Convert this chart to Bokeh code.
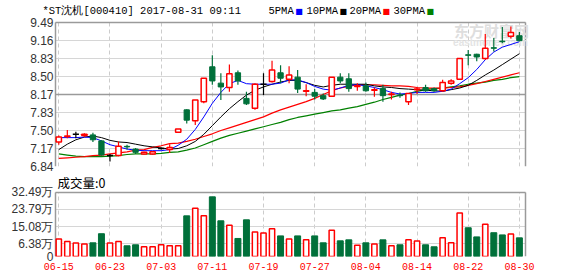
from bokeh.plotting import figure
from bokeh.layouts import column
from bokeh.models import FixedTicker, Label, ColumnDataSource, Range1d, PrintfTickFormatter, Grid
from bokeh.embed import file_html
from bokeh.resources import INLINE

# ---------------- data ----------------
dates = ["06-15", "06-16", "06-19", "06-20", "06-21", "06-22", "06-23", "06-26", "06-27", "06-28",
         "06-29", "06-30", "07-03", "07-04", "07-05", "07-06", "07-07", "07-10", "07-11", "07-12",
         "07-13", "07-14", "07-17", "07-18", "07-19", "07-20", "07-21", "07-24", "07-25", "07-26",
         "07-27", "07-28", "07-31", "08-01", "08-02", "08-03", "08-04", "08-07", "08-08", "08-09",
         "08-10", "08-11", "08-14", "08-15", "08-16", "08-17", "08-18", "08-21", "08-22", "08-23",
         "08-24", "08-25", "08-28", "08-29", "08-30"]

open_ = [7.29, 7.39, 7.43, 7.41, 7.42, 7.31, 7.04, 7.04, 7.21, 7.16,
         7.07, 7.07, 7.17, 7.15, 7.47, 7.88, 7.68, 8.03, 8.67, 8.37,
         8.29, 8.56, 8.09, 7.91, 8.35, 8.40, 8.56, 8.44, 8.48, 8.22,
         8.20, 8.14, 8.13, 8.48, 8.45, 8.31, 8.32, 8.24, 8.27, 8.16,
         8.15, 8.03, 8.25, 8.29, 8.27, 8.23, 8.37, 8.44, 8.89, 8.90,
         8.82, 9.02, 9.14, 9.23, 9.24]
high = [7.41, 7.51, 7.48, 7.45, 7.46, 7.32, 7.07, 7.30, 7.24, 7.18,
        7.11, 7.12, 7.19, 7.25, 7.53, 7.89, 8.06, 8.46, 8.88, 8.55,
        8.71, 8.60, 8.21, 8.37, 8.55, 8.78, 8.70, 8.68, 8.61, 8.35,
        8.26, 8.18, 8.48, 8.55, 8.55, 8.37, 8.38, 8.29, 8.34, 8.21,
        8.20, 8.18, 8.30, 8.34, 8.29, 8.43, 8.44, 8.82, 8.98, 8.91,
        9.27, 9.20, 9.40, 9.41, 9.31]
low = [7.24, 7.36, 7.36, 7.38, 7.29, 7.04, 6.93, 7.03, 7.15, 7.07,
       7.06, 7.06, 7.15, 7.09, 7.47, 7.63, 7.60, 8.00, 8.34, 8.06,
       8.21, 8.34, 7.97, 7.88, 8.15, 8.38, 8.37, 8.37, 8.19, 8.13,
       8.07, 8.06, 8.13, 8.37, 8.21, 8.23, 8.21, 8.12, 8.03, 8.07,
       8.10, 7.97, 8.17, 8.21, 8.21, 8.21, 8.34, 8.43, 8.70, 8.77,
       8.80, 8.95, 9.10, 9.19, 9.14]
close = [7.38, 7.40, 7.43, 7.43, 7.33, 7.05, 7.04, 7.21, 7.20, 7.10,
         7.10, 7.11, 7.17, 7.19, 7.53, 7.69, 8.06, 8.46, 8.41, 8.30,
         8.54, 8.41, 7.99, 8.35, 8.35, 8.61, 8.46, 8.52, 8.26, 8.23,
         8.13, 8.08, 8.48, 8.41, 8.27, 8.32, 8.23, 8.25, 8.14, 8.17,
         8.14, 8.18, 8.26, 8.23, 8.23, 8.38, 8.41, 8.82, 8.88, 8.85,
         9.01, 9.01, 9.13, 9.30, 9.15]

ma5 = [7.37, 7.37, 7.37, 7.38, 7.37, 7.31, 7.24, 7.20, 7.16, 7.14,
       7.13, 7.13, 7.13, 7.15, 7.23, 7.34, 7.52, 7.75, 8.00, 8.20,
       8.36, 8.42, 8.36, 8.35, 8.35, 8.35, 8.37, 8.43, 8.43, 8.38,
       8.31, 8.26, 8.24, 8.28, 8.33, 8.34, 8.32, 8.29, 8.25, 8.20,
       8.17, 8.18, 8.20, 8.20, 8.20, 8.22, 8.26, 8.36, 8.47, 8.62,
       8.80, 8.94, 9.03, 9.08, 9.13]
ma10 = [7.15, 7.25, 7.33, 7.38, 7.40, 7.37, 7.32, 7.29, 7.28, 7.25,
        7.22, 7.20, 7.18, 7.16, 7.17, 7.22, 7.30, 7.43, 7.59, 7.75,
        7.90, 8.03, 8.15, 8.24, 8.30, 8.35, 8.39, 8.42, 8.42, 8.38,
        8.33, 8.30, 8.33, 8.35, 8.35, 8.35, 8.35, 8.32, 8.30, 8.29,
        8.27, 8.26, 8.25, 8.24, 8.23, 8.22, 8.25, 8.28, 8.33, 8.42,
        8.52, 8.61, 8.71, 8.81, 8.91]
ma20 = [6.99, 7.00, 7.01, 7.02, 7.04, 7.05, 7.07, 7.09, 7.11, 7.14,
        7.15, 7.19, 7.22, 7.26, 7.27, 7.30, 7.34, 7.39, 7.44, 7.50,
        7.55, 7.60, 7.65, 7.70, 7.75, 7.82, 7.88, 7.93, 7.98, 8.03,
        8.09, 8.16, 8.23, 8.28, 8.31, 8.34, 8.34, 8.34, 8.33, 8.32,
        8.32, 8.31, 8.29, 8.28, 8.28, 8.28, 8.29, 8.30, 8.33, 8.36,
        8.40, 8.44, 8.48, 8.52, 8.56]
ma30 = [7.07, 7.05, 7.03, 7.02, 7.02, 7.02, 7.03, 7.04, 7.06, 7.07,
        7.07, 7.07, 7.08, 7.10, 7.11, 7.14, 7.18, 7.24, 7.30, 7.36,
        7.41, 7.45, 7.49, 7.53, 7.57, 7.61, 7.65, 7.70, 7.74, 7.77,
        7.80, 7.83, 7.86, 7.88, 7.91, 7.94, 7.98, 8.02, 8.07, 8.11,
        8.15, 8.18, 8.22, 8.25, 8.27, 8.28, 8.30, 8.32, 8.35, 8.37,
        8.39, 8.42, 8.44, 8.47, 8.49]

volume = [8.8, 7.6, 6.8, 6.3, 6.9, 11.5, 6.8, 7.6, 5.4, 5.9,
          4.9, 4.9, 5.9, 5.4, 5.4, 20.5, 24.4, 20.5, 30.1, 18.0,
          15.8, 9.1, 18.5, 12.3, 11.8, 14.0, 10.4, 8.8, 10.4, 8.4,
          10.4, 6.9, 13.3, 7.9, 8.4, 5.7, 6.9, 6.3, 8.4, 5.4,
          5.9, 8.4, 7.8, 5.9, 4.9, 9.4, 6.9, 21.9, 14.5, 9.9,
          16.3, 12.0, 10.9, 11.3, 9.4]

price_ticks = [6.84, 7.17, 7.50, 7.83, 8.17, 8.50, 8.83, 9.16, 9.49]
price_mid = [8.17]
vol_ticks = [0, 6.38, 15.08, 23.79, 32.49]
vol_tick_labels = ["0", "6.38万", "15.08万", "23.79万", "32.49万"]
x_tick_idx = [0, 6, 12, 18, 24, 30, 36, 42, 48, 54]

title_text = "*ST沈机[000410] 2017-08-31 09:11"
legend_names = ["5PMA", "10PMA", "20PMA", "30PMA"]
vol_text = "成交量:0"

# ---------------- styles / layout constants ----------------
RED = "#ff0000"
GREEN = "#00703a"
BLACK = "#000000"
BLUE = "#0000ff"
MA_GREEN = "#008000"
GRID = "#d6d6d6"
BORDER = "#9a9a9a"
AXIS_FONT = "Liberation Sans"
MONO = "Liberation Mono"

X_LEFT, X_RIGHT = -0.387, 54.71          # plot-box edges in day units
P_LO, P_HI = price_ticks[0], price_ticks[-1]
V_LO, V_HI = vol_ticks[0], vol_ticks[-1]

n = len(dates)
idx = list(range(n))
kind = ["up" if c > o else ("down" if c < o else "flat") for o, c in zip(open_, close)]


def sel(k):
    ii = [i for i in idx if kind[i] == k]
    return ColumnDataSource(dict(
        x=ii,
        top=[max(open_[i], close[i]) for i in ii],
        bottom=[min(open_[i], close[i]) for i in ii],
        high=[high[i] for i in ii],
        low=[low[i] for i in ii],
    ))


xr = Range1d(-1.911, 60.93)


def style_common(p, lo, hi):
    p.xgrid.ticker = FixedTicker(ticks=x_tick_idx)
    p.xgrid.grid_line_color = "#cccccc"
    p.xgrid.grid_line_dash = "4 3"
    p.xgrid.cross_bounds = (lo, hi)
    p.ygrid.grid_line_color = GRID
    p.ygrid.cross_bounds = (X_LEFT, X_RIGHT)
    p.outline_line_color = None
    p.yaxis.major_label_text_font = AXIS_FONT
    p.yaxis.major_label_text_font_size = "12px"
    p.yaxis.major_label_text_color = "#333333"
    p.yaxis.major_tick_out = 0
    p.yaxis.major_tick_in = 0
    p.yaxis.minor_tick_out = 0
    p.yaxis.minor_tick_in = 0
    p.yaxis.major_label_standoff = -11
    p.yaxis.axis_line_color = None
    p.yaxis.major_tick_line_color = None
    p.yaxis.minor_tick_line_color = None
    p.background_fill_color = "white"
    p.border_fill_color = "white"
    # box border: top/bottom and left/right
    p.add_layout(Grid(dimension=1, ticker=FixedTicker(ticks=[lo, hi]), grid_line_color=BORDER,
                      grid_line_width=1.5, cross_bounds=(X_LEFT, X_RIGHT)))
    p.add_layout(Grid(dimension=0, ticker=FixedTicker(ticks=[X_LEFT, X_RIGHT]), grid_line_color=BORDER,
                      grid_line_width=1.5, cross_bounds=(lo, hi)))


# ---------------- price panel ----------------
p1 = figure(width=578, height=173, x_range=xr, y_range=Range1d(6.84, 9.8864),
            output_backend="svg", toolbar_location=None,
            min_border_left=42, min_border_right=0, min_border_top=0, min_border_bottom=7)
p1.xaxis.visible = False
p1.yaxis.ticker = FixedTicker(ticks=price_ticks)
p1.yaxis.formatter = PrintfTickFormatter(format="%.2f")
style_common(p1, P_LO, P_HI)
p1.add_layout(Grid(dimension=1, ticker=FixedTicker(ticks=price_mid), grid_line_color=BORDER,
                   grid_line_width=1.5, cross_bounds=(X_LEFT, X_RIGHT)))

# watermark
p1.add_layout(Label(x=449, y=136, x_units="screen", y_units="screen", text="东方财富网",
                    text_font="Noto Sans CJK SC", text_font_size="15px", text_font_style="bold",
                    text_color="#dedede", text_align="center", text_baseline="middle", level="underlay"))
p1.add_layout(Label(x=448, y=124, x_units="screen", y_units="screen", text="eastmoney.com",
                    text_font="Liberation Sans", text_font_size="10px", text_font_style="bold",
                    text_color="#e4e4e4", text_align="center", text_baseline="middle", level="underlay"))

# MA lines
p1.line(idx, ma30, line_color=MA_GREEN, line_width=1.2)
p1.line(idx, ma20, line_color=RED, line_width=1.2)
p1.line(idx, ma10, line_color=BLACK, line_width=1)
p1.line(idx, ma5, line_color=BLUE, line_width=1)

# candles
W = 0.62
s_up, s_dn, s_fl = sel("up"), sel("down"), sel("flat")
p1.segment("x", "high", "x", "low", source=s_up, line_color=RED, line_width=1.2)
p1.segment("x", "high", "x", "low", source=s_dn, line_color=GREEN, line_width=1.2)
p1.segment("x", "high", "x", "low", source=s_fl, line_color=BLACK, line_width=1.2)
p1.vbar(x="x", top="top", bottom="bottom", width=W, source=s_up,
        fill_color="white", line_color=RED, line_width=1.5)
p1.vbar(x="x", top="top", bottom="bottom", width=W, source=s_dn,
        fill_color=GREEN, line_color=GREEN, line_width=1)
p1.vbar(x="x", top="top", bottom="bottom", width=W + 0.1, source=s_fl,
        fill_color=BLACK, line_color=BLACK, line_width=1.5)

# title & legend (inside the frame's top strip)
TY = 156
p1.add_layout(Label(x=0, y=TY, x_units="screen", y_units="screen", text=title_text,
                    text_font=MONO, text_font_size="10.5px", text_color="#000000",
                    text_baseline="middle"))
leg_x = [226, 264, 307, 351]
leg_colors = [BLUE, BLACK, RED, MA_GREEN]
for name, lx, col in zip(legend_names, leg_x, leg_colors):
    p1.add_layout(Label(x=lx, y=TY, x_units="screen", y_units="screen", text=name,
                        text_font=MONO, text_font_size="10.5px", text_color="#000000",
                        text_baseline="middle"))
    p1.add_layout(Label(x=lx + len(name) * 6.3 + 1.5, y=TY - 1, x_units="screen", y_units="screen",
                        text="■", text_font="DejaVu Sans", text_font_size="8px",
                        text_color=col, text_baseline="middle"))

# ---------------- volume panel ----------------
p2 = figure(width=578, height=103, x_range=xr, y_range=Range1d(0, 41.88),
            output_backend="svg", toolbar_location=None,
            min_border_left=42, min_border_right=0, min_border_top=0, min_border_bottom=20)
p2.xaxis.ticker = FixedTicker(ticks=x_tick_idx)
p2.xaxis.major_label_overrides = {i: dates[i] for i in x_tick_idx}
p2.xaxis.major_label_text_color = RED
p2.xaxis.major_label_text_font = MONO
p2.xaxis.major_label_text_font_size = "10px"
p2.xaxis.major_label_standoff = 6
p2.xaxis.major_tick_out = 0
p2.xaxis.major_tick_in = 0
p2.xaxis.axis_line_color = None
p2.xaxis.major_tick_line_color = None
p2.xaxis.minor_tick_line_color = None
p2.yaxis.ticker = FixedTicker(ticks=vol_ticks)
p2.yaxis.major_label_overrides = dict(zip(vol_ticks, vol_tick_labels))
style_common(p2, V_LO, V_HI)

vol_up = [i for i in idx if close[i] >= open_[i]]
vol_dn = [i for i in idx if close[i] < open_[i]]
p2.vbar(x=vol_up, top=[volume[i] for i in vol_up], bottom=0, width=0.62,
        fill_color="white", line_color=RED, line_width=1.5)
p2.vbar(x=vol_dn, top=[volume[i] for i in vol_dn], bottom=0, width=0.7,
        fill_color=GREEN, line_color=GREEN, line_width=1)

p2.add_layout(Label(x=15, y=74, x_units="screen", y_units="screen", text=vol_text,
                    text_font="Noto Sans CJK SC", text_font_size="12.5px", text_color="#000000",
                    text_baseline="middle"))

layout = column(p1, p2, spacing=0)
open("out.html", "w").write(file_html(layout, INLINE))
